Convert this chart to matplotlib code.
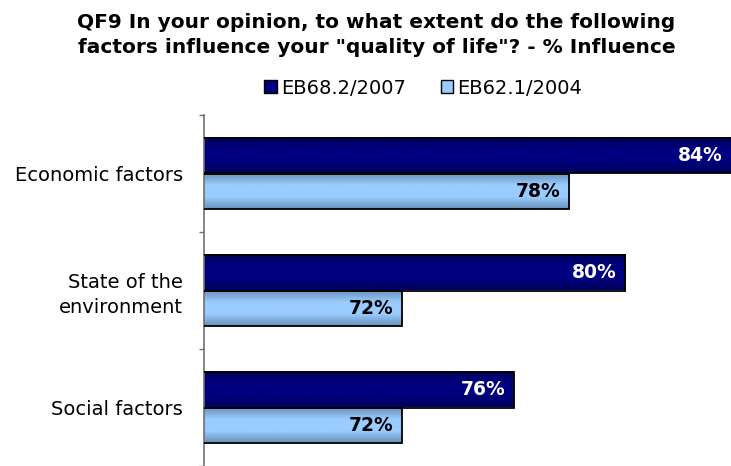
import numpy as np
import matplotlib
matplotlib.use("Agg")
import matplotlib.pyplot as plt
from matplotlib.colors import LinearSegmentedColormap

categories = ["Economic factors", "State of the\nenvironment", "Social factors"]
series_names = ["EB68.2/2007", "EB62.1/2004"]
eb2007 = [84, 80, 76]
eb2004 = [78, 72, 72]

title = 'QF9 In your opinion, to what extent do the following\nfactors influence your "quality of life"? - % Influence'

dark = "#000080"
light = "#99CCFF"

plt.rcParams['font.family'] = ['DejaVu Sans']

fig = plt.figure(figsize=(7.31, 4.66), dpi=100)
ax = fig.add_axes([204/731, 0, 527/731, 351/466])

xmin, xmax = 64.9, 83.8
y = np.arange(len(categories))
h = 0.3
b1 = ax.barh(y - h/2, eb2007, height=h, color=dark, edgecolor="black", linewidth=1.3, zorder=3)
b2 = ax.barh(y + h/2, eb2004, height=h, color=light, edgecolor="black", linewidth=1.3, zorder=3)

# vertical shading on each bar, kept inside the visible part of the bar
def shade(bars, c_edge, c_mid):
    cmap = LinearSegmentedColormap.from_list("g", [c_edge, c_mid, c_mid, c_edge])
    grad = np.linspace(0, 1, 64).reshape(-1, 1)
    for p in bars:
        x0, y0, w, hh = p.get_x(), p.get_y(), p.get_width(), p.get_height()
        left, right = max(x0, xmin), min(x0 + w, xmax)
        ax.imshow(grad, cmap=cmap, aspect="auto", extent=(left, right, y0 + hh, y0),
                  zorder=2, interpolation="bicubic")
        p.set_facecolor("none")

shade(b1, "#00005C", dark)
shade(b2, "#6A90B8", light)
ax.set_xlim(xmin, xmax)
ax.set_ylim(2.5, -0.5)

for bars, vals, col in [(b1, eb2007, "white"), (b2, eb2004, "black")]:
    for p, v in zip(bars, vals):
        ax.annotate(f"{v}%", (min(v, xmax), p.get_y() + p.get_height()/2), xytext=(-6, 0),
                    textcoords="offset points", ha="right", va="center",
                    fontsize=13.5, fontweight="bold", color=col, zorder=5)

for s in ["top", "right", "bottom"]:
    ax.spines[s].set_visible(False)
ax.spines["left"].set_color("#707070")
ax.spines["left"].set_linewidth(1.2)

ax.set_xticks([])
ax.set_yticks(y)
ax.set_yticklabels(categories, fontsize=14, ha="right", multialignment="right", linespacing=1.35)
ax.tick_params(axis="y", which="major", length=0, pad=15)
ax.set_yticks(np.arange(-0.5, len(categories), 1.0), minor=True)
ax.tick_params(axis="y", which="minor", length=3.6, width=1, color="#707070", direction="out")

fig.text(0.515, 0.972, title, ha="center", va="top", fontsize=14.5, fontweight="bold",
         linespacing=1.4)

handles = [plt.Rectangle((0, 0), 1, 1, facecolor=dark, edgecolor="black", linewidth=1),
           plt.Rectangle((0, 0), 1, 1, facecolor=light, edgecolor="black", linewidth=1)]
fig.legend(handles, series_names, loc="center", bbox_to_anchor=(0.579, 0.811), ncol=2,
           frameon=False, fontsize=14, handlelength=0.65, handleheight=0.65,
           handletextpad=0.2, columnspacing=1.8)

fig.savefig("out.png", dpi=100)
